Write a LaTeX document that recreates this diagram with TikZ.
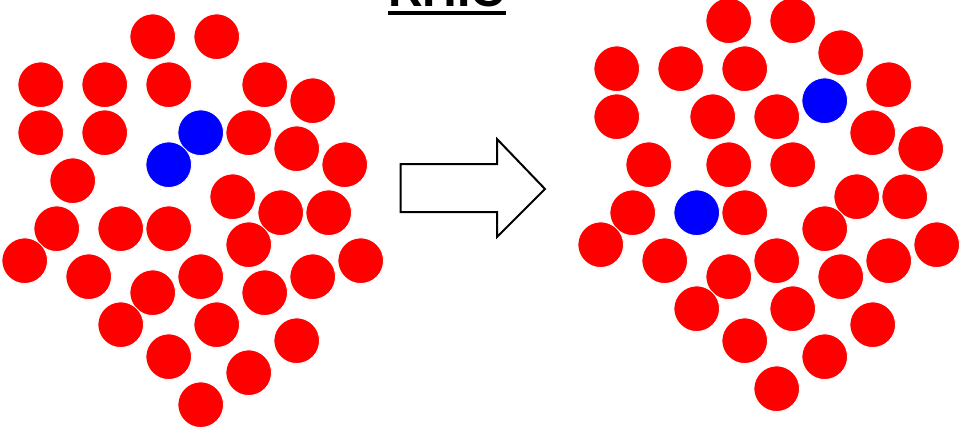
\documentclass[tikz,border=0pt]{standalone}
\usepackage{fontspec}
\setmainfont{Liberation Sans}
\begin{document}
\begin{tikzpicture}[x=1pt,y=-1pt,
  ball/.style={circle,inner sep=0pt,minimum size=45.6pt,draw=white,line width=0.8pt},
  redball/.style={ball,fill=red},
  blueball/.style={ball,fill=blue},
  bigarrow/.style={draw=black,line width=2pt,line join=miter,fill=white}]
\useasboundingbox (0,0) rectangle (961,426);

% grid lattice: 16px pitch
\def\gx#1{8.7+16*#1}
\def\gy#1{4.7+16*#1}

% initial state
\foreach \i/\j/\c [count=\n] in {9/2/red,13/2/red,
  2/5/red,6/5/red,10/5/red,16/5/red,19/6/red,
  2/8/red,6/8/red,12/8/blue,15/8/red,18/9/red,
  10/10/blue,21/10/red,4/11/red,14/12/red,
  17/13/red,20/13/red,3/14/red,7/14/red,10/14/red,
  15/15/red,1/16/red,22/16/red,
  5/17/red,12/17/red,19/17/red,9/18/red,16/18/red,
  7/20/red,13/20/red,18/21/red,10/22/red,15/23/red,12/25/red}
  \node[\c ball] (a\n) at ({\gx{\i}},{\gy{\j}}) {};

% final state
\foreach \i/\j/\c [count=\n] in {45/1/red,49/1/red,52/3/red,
  38/4/red,42/4/red,46/4/red,55/5/red,51/6/blue,
  38/7/red,44/7/red,48/7/red,54/8/red,57/9/red,
  40/10/red,45/10/red,49/10/red,53/12/red,56/12/red,
  39/13/red,43/13/blue,46/13/red,51/14/red,
  37/15/red,58/15/red,41/16/red,48/16/red,55/16/red,
  45/17/red,52/17/red,43/19/red,49/19/red,54/20/red,
  46/21/red,51/22/red,48/24/red}
  \node[\c ball] (b\n) at ({\gx{\i}},{\gy{\j}}) {};

% transition arrow
\draw[bigarrow] (400.7,164) -- (497,164) -- (497,139) -- (545,189)
  -- (497,237) -- (497,212) -- (400.7,212) -- cycle;

% heading
\node[anchor=base,inner sep=0pt,font=\bfseries\fontsize{48}{48}\selectfont]
  (title) at (447,6) {RHIC};
\fill ([yshift=-5pt]title.base west) rectangle ([yshift=-9pt]title.base east);
\end{tikzpicture}
\end{document}
